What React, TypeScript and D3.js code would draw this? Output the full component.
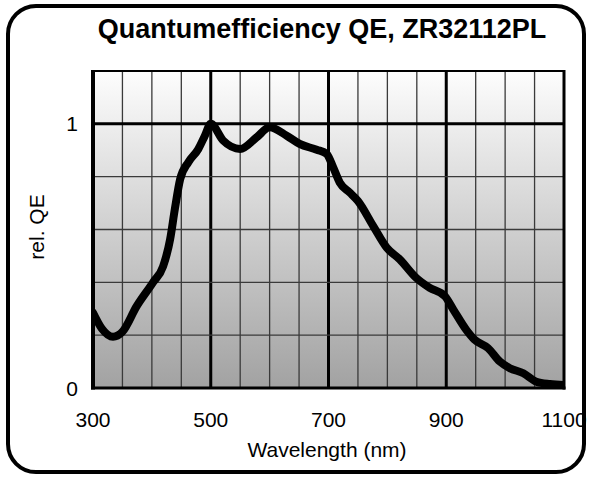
import React from 'react'
import * as d3 from 'd3'

// rel. QE (nm, value)
const wavelengths = [300, 315, 334, 350, 374, 402, 419, 431, 439, 448, 462, 479, 490, 500, 521, 550, 578, 600, 629, 651, 680, 697, 708, 719, 736, 750, 776, 799, 821, 849, 872, 898, 912, 934, 948, 971, 991, 1008, 1031, 1053, 1076, 1100]
const qe = [0.285, 0.225, 0.194, 0.213, 0.309, 0.4, 0.46, 0.563, 0.677, 0.79, 0.855, 0.905, 0.955, 1.0, 0.937, 0.905, 0.949, 0.987, 0.955, 0.924, 0.902, 0.886, 0.835, 0.778, 0.74, 0.708, 0.613, 0.531, 0.487, 0.417, 0.379, 0.347, 0.297, 0.22, 0.183, 0.151, 0.1, 0.075, 0.056, 0.024, 0.015, 0.011]

const xTickLabels = [300, 500, 700, 900, 1100]
const yTickLabels = [0, 1]
const xGrid = d3.range(300, 1101, 50)
const yGrid = d3.range(0, 1.21, 0.2)
const xMajor = [500, 700, 900]
const yMajor = [1]

const title = 'Quantumefficiency QE, ZR32112PL'
const xTitle = 'Wavelength (nm)'
const yTitle = 'rel. QE'

export default function App() {
  const width = 590
  const height = 477
  const left = 93, right = 564, top = 71, bottom = 388
  const font = 'Arial, "Liberation Sans", sans-serif'

  const x = d3.scaleLinear().domain([300, 1100]).range([left, right])
  const y = d3.scaleLinear().domain([0, 1.2]).range([bottom, top])

  const points = wavelengths.map((w, i) => [w, qe[i]] as [number, number])
  const line = d3.line<[number, number]>()
    .x(d => x(d[0]))
    .y(d => y(d[1]))
    .curve(d3.curveMonotoneX)

  return <svg width={width} height={height} style={{ position: 'absolute', left: 0, top: 0 }}>
    <defs>
      <linearGradient id="bg" x1="0" y1="0" x2="0" y2="1">
        <stop offset="0%" stopColor="#fdfdfd" />
        <stop offset="100%" stopColor="#a2a2a2" />
      </linearGradient>
      <clipPath id="plot">
        <rect x={left} y={top} width={right - left} height={bottom - top} />
      </clipPath>
    </defs>
    <rect x={0} y={0} width={width} height={height} fill="white" />
    <rect x={8} y={6} width={576} height={466} rx={28} ry={28} fill="white" stroke="black" strokeWidth={4} />

    <text x={322} y={38} textAnchor="middle" fontFamily={font} fontWeight="bold" fontSize={27}>{title}</text>

    <rect x={left} y={top} width={right - left} height={bottom - top} fill="url(#bg)" />

    {xGrid.map(v => <line key={'x' + v} x1={x(v)} x2={x(v)} y1={top} y2={bottom}
      stroke={xMajor.includes(v) ? 'black' : '#3a3a3a'} strokeWidth={xMajor.includes(v) ? 3 : 1.3} />)}
    {yGrid.map(v => <line key={'y' + v} x1={left} x2={right} y1={y(v)} y2={y(v)}
      stroke={yMajor.some(m => Math.abs(m - v) < 1e-6) ? 'black' : '#3a3a3a'}
      strokeWidth={yMajor.some(m => Math.abs(m - v) < 1e-6) ? 3 : 1.3} />)}

    <g clipPath="url(#plot)">
      <path d={line(points) || ''} fill="none" stroke="black" strokeWidth={8} strokeLinejoin="round" strokeLinecap="round" />
    </g>

    {/* frame */}
    <line x1={left} x2={right} y1={top} y2={top} stroke="black" strokeWidth={2} />
    <line x1={left} x2={left} y1={top - 1} y2={bottom + 1.5} stroke="black" strokeWidth={4} />
    <line x1={right} x2={right} y1={top - 1} y2={bottom + 1.5} stroke="black" strokeWidth={3} />
    <line x1={left - 2} x2={right + 1.5} y1={bottom} y2={bottom} stroke="black" strokeWidth={3} />

    {yTickLabels.map(v => <text key={'yl' + v} x={78} y={y(v)} dy="0.36em" textAnchor="end"
      fontFamily={font} fontSize={21}>{v}</text>)}
    {xTickLabels.map(v => <text key={'xl' + v} x={x(v)} y={427} textAnchor="middle"
      fontFamily={font} fontSize={21}>{v}</text>)}

    <text x={327} y={456.5} textAnchor="middle" fontFamily={font} fontSize={21}>{xTitle}</text>
    <text transform="translate(43.5,227) rotate(-90)" textAnchor="middle" fontFamily={font} fontSize={21}>{yTitle}</text>
  </svg>
}
